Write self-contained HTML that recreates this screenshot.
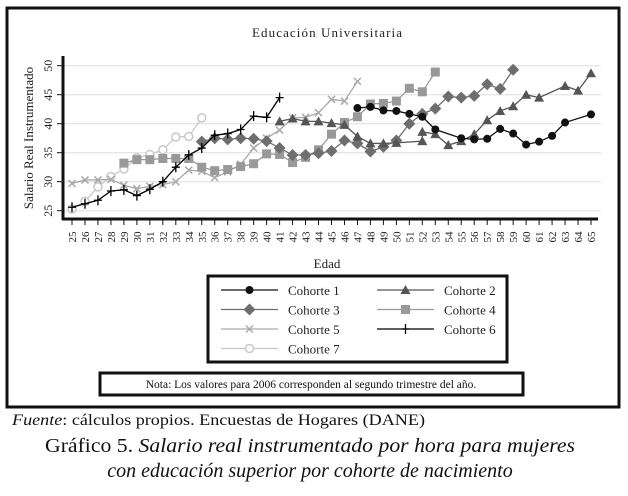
<!DOCTYPE html>
<html><head><meta charset="utf-8"><style>
body{margin:0;background:#fff;}
svg{display:block;font-family:"Liberation Serif",serif;}
</style></head><body>
<svg id="chart" width="628" height="496" viewBox="0 0 628 496">
<rect x="7" y="8" width="612" height="399" fill="none" stroke="#111" stroke-width="3"/>
<text x="327" y="37" font-size="13" text-anchor="middle" fill="#222" textLength="150">Educación Universitaria</text>
<text transform="translate(33,138) rotate(-90)" font-size="13" text-anchor="middle" fill="#222">Salario Real Instrumentado</text>
<text x="327" y="268" font-size="13" text-anchor="middle" fill="#222">Edad</text>
<g id="grid"></g><g id="axes"></g><g id="series"></g>
<rect x="208" y="276" width="299" height="86" fill="#fff" stroke="#111" stroke-width="3"/>
<g id="legend"></g>
<rect x="100" y="373" width="423" height="22" fill="#fff" stroke="#111" stroke-width="3"/>
<text x="311" y="388" font-size="11.5" text-anchor="middle" fill="#111">Nota: Los valores para 2006 corresponden al segundo trimestre del año.</text>
<text x="12" y="425" font-size="16" fill="#111" textLength="413" lengthAdjust="spacingAndGlyphs"><tspan font-style="italic">Fuente</tspan>: cálculos propios. Encuestas de Hogares (DANE)</text>
<text x="45" y="452" font-size="20" fill="#111" textLength="530" lengthAdjust="spacingAndGlyphs">Gráfico 5. <tspan font-style="italic">Salario real instrumentado por hora para mujeres</tspan></text>
<text x="310" y="477" font-size="20" text-anchor="middle" font-style="italic" fill="#111">con educación superior por cohorte de nacimiento</text>
</svg>
<script>
const yTicks=[25,30,35,40,45,50];
const ages1=[47,48,49,50,51,52,53,55,56,57,58,59,60,61,62,63,65];
const vals1=[42.7,42.9,42.3,42.2,41.7,41.2,39.0,37.5,37.3,37.4,39.1,38.3,36.4,36.9,37.9,40.2,41.6];
const ages2=[41,42,43,44,45,46,47,48,49,50,52,52,53,54,55,56,57,58,59,60,61,63,64,65];
const vals2=[40.4,40.9,40.4,40.4,40.1,39.8,37.8,36.6,36.6,36.7,37.0,38.6,38.2,36.3,37.0,38.2,40.6,42.2,43.0,45.0,44.5,46.5,45.7,48.7];
const ages3=[35,36,37,38,39,40,41,42,43,44,45,46,47,48,49,50,51,52,53,54,55,56,57,58,59];
const vals3=[36.9,37.5,37.3,37.5,37.4,37.0,35.8,34.6,34.6,34.9,35.3,37.1,36.6,35.2,36.0,37.1,40.0,41.7,42.6,44.7,44.5,44.8,46.8,46.0,49.3];
const ages4=[29,30,31,32,33,34,35,36,37,38,39,40,41,42,43,44,45,46,47,48,49,50,51,52,53];
const vals4=[33.2,33.8,33.8,34.0,34.0,34.0,32.5,31.9,32.1,32.6,33.1,34.8,34.7,33.3,34.2,35.5,38.2,40.2,41.2,43.4,43.5,43.9,46.1,45.5,48.9];
const ages5=[25,26,27,28,29,30,31,32,33,34,35,36,37,38,39,40,41,42,43,44,45,46,47];
const vals5=[29.7,30.3,30.3,30.4,29.4,28.8,29.2,29.5,30.0,32.0,31.8,30.7,31.7,33.0,35.8,37.5,38.9,41.0,41.1,41.9,44.2,43.9,47.3];
const ages6=[25,26,27,28,29,30,31,32,33,34,35,36,37,38,39,40,41];
const vals6=[25.6,26.2,26.8,28.4,28.6,27.6,28.7,30.0,32.5,34.6,35.8,38.0,38.3,39.0,41.3,41.1,44.5];
const ages7=[25,26,27,28,29,30,31,32,33,34,35];
const vals7=[25.3,26.6,29.1,30.9,32.2,34.1,34.7,35.5,37.7,37.8,41.0];
const xMin=25,xMax=65;
const NS='http://www.w3.org/2000/svg';
const X=a=>72+(a-25)*(591-72)/(xMax-xMin);
const Y=v=>210.7-(v-25)*5.8;
function mk(t,at,p){const e=document.createElementNS(NS,t);for(const k in at)e.setAttribute(k,at[k]);p.appendChild(e);return e;}
const grid=document.getElementById('grid'),axes=document.getElementById('axes'),ser=document.getElementById('series'),leg=document.getElementById('legend');
yTicks.forEach(v=>{
 const g=mk('line',{x1:63,x2:601,y1:Y(v),y2:Y(v),stroke:'#ddd','stroke-width':1},grid);
 
 
 mk('line',{x1:57,x2:63,y1:Y(v),y2:Y(v),stroke:'#111','stroke-width':1},axes);
 const t=mk('text',{transform:`translate(52,${Y(v)}) rotate(-90)`,'font-size':12,'text-anchor':'middle',fill:'#222'},axes);
 t.textContent=v;
 
 
});
const ya=mk('line',{x1:63,x2:63,y1:56,y2:220,stroke:'#111','stroke-width':3},axes);


const xa=mk('line',{x1:62,x2:598,y1:219,y2:219,stroke:'#111','stroke-width':3},axes);


for(let a=xMin;a<=xMax;a++){
 mk('line',{x1:X(a),x2:X(a),y1:219,y2:225,stroke:'#111','stroke-width':1},axes);
 const t=mk('text',{transform:`translate(${X(a)+4},237) rotate(-90)`,'font-size':11,'text-anchor':'middle',fill:'#222'},axes);
 t.textContent=a;
 
 
}
function marker(type,x,y,c,p){
 if(type==='circle')mk('circle',{cx:x,cy:y,r:4,fill:c},p);
 else if(type==='tri')mk('polygon',{points:`${x},${y-5} ${x-5},${y+4} ${x+5},${y+4}`,fill:c},p);
 else if(type==='diamond')mk('polygon',{points:`${x},${y-6} ${x+6},${y} ${x},${y+6} ${x-6},${y}`,fill:c},p);
 else if(type==='square')mk('rect',{x:x-4.5,y:y-4.5,width:9,height:9,fill:c},p);
 else if(type==='x'){mk('path',{d:`M${x-3.5} ${y-3.5}L${x+3.5} ${y+3.5}M${x+3.5} ${y-3.5}L${x-3.5} ${y+3.5}`,stroke:c,'stroke-width':1.5},p);}
 else if(type==='plus'){mk('path',{d:`M${x-4} ${y}L${x+4} ${y}M${x} ${y-5}L${x} ${y+5}`,stroke:c,'stroke-width':1.3},p);}
 else if(type==='ocircle')mk('circle',{cx:x,cy:y,r:4,fill:'#fff',stroke:c,'stroke-width':1.5},p);
}
const S=[
 {n:'Cohorte 1',a:ages1,v:vals1,c:'#111',m:'circle'},
 {n:'Cohorte 2',a:ages2,v:vals2,c:'#555',m:'tri'},
 {n:'Cohorte 3',a:ages3,v:vals3,c:'#6e6e6e',m:'diamond'},
 {n:'Cohorte 4',a:ages4,v:vals4,c:'#999',m:'square'},
 {n:'Cohorte 5',a:ages5,v:vals5,c:'#aaa',m:'x'},
 {n:'Cohorte 6',a:ages6,v:vals6,c:'#000',m:'plus'},
 {n:'Cohorte 7',a:ages7,v:vals7,c:'#c8c8c8',m:'ocircle'}
];
[6,4,3,2,1,0,5].forEach(i=>{
 const s=S[i];
 const g=mk('g',{},ser);
 
 
 mk('polyline',{points:s.a.map((a,j)=>X(a)+','+Y(s.v[j])).join(' '),fill:'none',stroke:s.c,'stroke-width':1.3},g);
 s.a.forEach((a,j)=>marker(s.m,X(a),Y(s.v[j]),s.c,g));
});
S.forEach((s,i)=>{
 const col=i%2,row=Math.floor(i/2);
 const x0=col?377:221,y0=290+row*19.5;
 const g=mk('g',{},leg);
 
 
 mk('line',{x1:x0,x2:x0+57,y1:y0,y2:y0,stroke:s.c,'stroke-width':1.3},g);
 marker(s.m,x0+28.5,y0,s.c,g);
 const t=mk('text',{x:x0+67,y:y0+5,'font-size':13,fill:'#222'},g);
 t.textContent=s.n;
});
</script>
</body></html>
